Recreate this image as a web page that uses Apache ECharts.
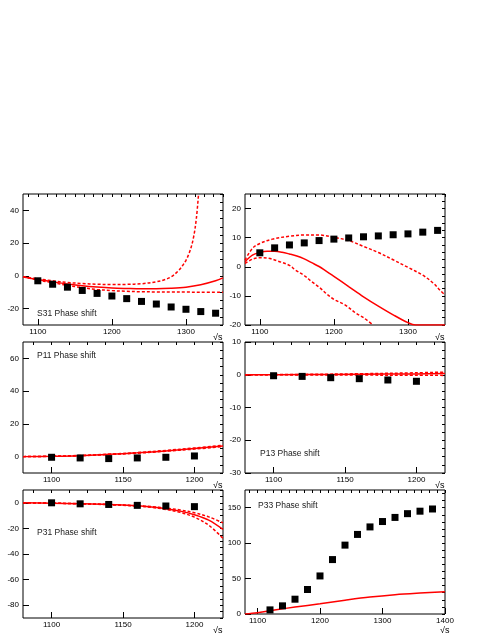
<!DOCTYPE html>
<html>
<head>
<meta charset="utf-8">
<script src="https://cdn.jsdelivr.net/npm/echarts@6/dist/echarts.min.js"></script>
<style>
  html, body { margin: 0; padding: 0; background: #fff; }
  #chart { width: 491px; height: 635px; }
</style>
</head>
<body>
<div id="chart"></div>
<script>
// ---- S31 ----
const s31X = [1100, 1120, 1140, 1160, 1180, 1200, 1220, 1240, 1260, 1280, 1300, 1320, 1340];
const s31Pts = [-3.0, -5.1, -6.9, -8.9, -10.7, -12.3, -13.9, -15.6, -17.2, -19.0, -20.4, -21.8, -22.8];
const s31FitX = [1080, 1100, 1120, 1140, 1160, 1180, 1200, 1220, 1240, 1260, 1280, 1300, 1320, 1340, 1350];
const s31Fit = [-0.5, -2.2, -3.6, -4.9, -6.0, -6.8, -7.4, -7.7, -7.9, -7.9, -7.6, -6.9, -5.4, -3.0, -1.2];
const s31UpX = [1080, 1100, 1120, 1140, 1160, 1180, 1200, 1220, 1240, 1260, 1270, 1280, 1290, 1295, 1300, 1305, 1310, 1314, 1317];
const s31Up = [-0.5, -1.8, -3.0, -4.0, -4.7, -5.1, -5.3, -5.2, -4.8, -3.6, -2.5, -0.6, 3.2, 6.0, 9.5, 14.7, 23, 35, 50];
const s31LoX = [1080, 1100, 1120, 1140, 1160, 1180, 1200, 1220, 1240, 1260, 1280, 1300, 1320, 1350];
const s31Lo = [-0.6, -2.5, -4.2, -5.8, -7.2, -8.3, -9.0, -9.4, -9.7, -9.8, -9.9, -9.9, -10.0, -10.0];

// ---- second panel (unlabelled) ----
const s11X = [1100, 1120, 1140, 1160, 1180, 1200, 1220, 1240, 1260, 1280, 1300, 1320, 1340];
const s11Pts = [4.8, 6.5, 7.5, 8.2, 9.0, 9.5, 9.9, 10.3, 10.6, 11.0, 11.3, 11.9, 12.5];
const s11FitX = [1080, 1090, 1100, 1110, 1120, 1130, 1140, 1150, 1160, 1170, 1180, 1190, 1200, 1220, 1240, 1260, 1280, 1300, 1310, 1350];
const s11Fit = [1.7, 4.0, 4.9, 5.3, 5.3, 5.0, 4.4, 3.7, 2.7, 1.4, 0.1, -1.6, -3.3, -6.8, -10.3, -13.5, -16.5, -19.2, -20, -20];
const s11UpX = [1080, 1090, 1100, 1117, 1140, 1160, 1180, 1200, 1220, 1240, 1260, 1280, 1300, 1320, 1335, 1343, 1350];
const s11Up = [2.3, 6.3, 8.0, 9.5, 10.5, 10.9, 10.9, 10.1, 9.0, 7.0, 4.9, 2.4, -0.2, -2.9, -5.8, -8.0, -9.7];
const s11LoX = [1080, 1090, 1100, 1112, 1125, 1140, 1148, 1160, 1170, 1180, 1192, 1200, 1215, 1230, 1240, 1253];
const s11Lo = [1.1, 2.6, 3.1, 2.9, 1.9, 0.5, -1.1, -3.0, -5.1, -7.0, -9.7, -11.2, -13.1, -16, -17.5, -20];

// ---- P11 ----
const p11X = [1100, 1120, 1140, 1160, 1180, 1200];
const p11Pts = [-0.4, -0.8, -1.2, -0.8, -0.4, 0.4];
const p11FitX = [1080, 1100, 1120, 1140, 1160, 1180, 1200, 1220];
const p11Fit = [0, 0.2, 0.6, 1.4, 2.3, 3.5, 4.9, 6.5];
const p11Up = [0, 0.25, 0.7, 1.5, 2.5, 3.8, 5.3, 7.0];
const p11Lo = [0, 0.15, 0.5, 1.3, 2.1, 3.3, 4.6, 6.1];

// ---- P13 ----
const p13X = [1100, 1120, 1140, 1160, 1180, 1200];
const p13Pts = [-0.3, -0.5, -0.9, -1.2, -1.6, -2.0];
const p13FitX = [1080, 1120, 1160, 1200, 1220];
const p13Fit = [0, 0.05, 0.15, 0.25, 0.35];
const p13Up = [0, 0.1, 0.3, 0.6, 0.8];
const p13Lo = [0, -0.05, -0.1, -0.15, -0.2];

// ---- P31 ----
const p31X = [1100, 1120, 1140, 1160, 1180, 1200];
const p31Pts = [0, -0.8, -1.3, -2.0, -2.5, -3.0];
const p31FitX = [1080, 1100, 1120, 1140, 1160, 1170, 1180, 1190, 1200, 1210, 1220];
const p31Fit = [0, -0.3, -0.7, -1.3, -2.4, -3.3, -4.6, -6.5, -9.3, -13.5, -20.8];
const p31Up = [0, -0.3, -0.7, -1.3, -2.3, -3.0, -4.1, -5.6, -7.8, -11.0, -15.7];
const p31Lo = [0, -0.3, -0.8, -1.5, -2.6, -3.6, -5.2, -7.5, -11.2, -17.5, -27.8];

// ---- P33 ----
const p33X = [1120, 1140, 1160, 1180, 1200, 1220, 1240, 1260, 1280, 1300, 1320, 1340, 1360, 1380];
const p33Pts = [5.8, 11.5, 20.9, 34.6, 53.7, 76.8, 97.2, 112.3, 122.9, 130.5, 136.3, 141.6, 145.1, 148.2];
const p33FitX = [1080, 1100, 1130, 1160, 1200, 1240, 1280, 1320, 1360, 1400];
const p33Fit = [0, 1.8, 6.0, 9.8, 14.5, 19.5, 24.0, 27.3, 29.6, 31.5];

// ---- axes: ranges and tick labels ----
const xRanges = [[1080, 1350], [1080, 1350], [1080, 1220], [1080, 1220], [1080, 1220], [1080, 1400]];
const yRanges = [[-30, 50], [-20, 25], [-10, 70], [-30, 10], [-90, 10], [0, 175]];
const xTicks = [
  [1100, 1200, 1300], [1100, 1200, 1300],
  [1100, 1150, 1200], [1100, 1150, 1200], [1100, 1150, 1200],
  [1100, 1200, 1300, 1400]
];
const yTicks = [
  [-20, 0, 20, 40], [-20, -10, 0, 10, 20],
  [0, 20, 40, 60], [-30, -20, -10, 0, 10], [-80, -60, -40, -20, 0],
  [0, 50, 100, 150]
];
const xMinorStep = [12.5, 12.5, 12.5, 12.5, 12.5, 12.5];
const yMinorStep = [5, 2.5, 5, 2.5, 5, 10];
const labels = ['S31 Phase shift', '', 'P11 Phase shift', 'P13 Phase shift', 'P31 Phase shift', 'P33 Phase shift'];

const FONT = 'Liberation Sans, Arial, Helvetica, sans-serif';
const W = 200, H = 131;
const gridPos = [
  { left: 23, top: 194 }, { left: 245, top: 194 },
  { left: 23, top: 342 }, { left: 245, top: 342 },
  { left: 23, top: 490 }, { left: 245, top: 490 }
];
const labelPos = [
  { left: 37, top: 309 }, null,
  { left: 37, top: 351 }, { left: 260, top: 449 },
  { left: 37, top: 528 }, { left: 258, top: 501 }
];

function zip(xs, ys) {
  return xs.map((x, i) => [x, ys[i]]);
}
function minorTicks(range, step) {
  let out = [];
  let v = Math.ceil(range[0] / step) * step;
  for (; v <= range[1] + 1e-9; v += step) out.push(v);
  return out;
}
const plain = v => String(v);

const grids = [], xAxes = [], yAxes = [], series = [], titles = [];

gridPos.forEach((p, i) => {
  grids.push({
    left: p.left, top: p.top, width: W, height: H,
    show: true, borderColor: '#000', borderWidth: 1, backgroundColor: 'transparent'
  });
  let last = i === 5;
  xAxes.push({
    type: 'value', gridIndex: i, min: xRanges[i][0], max: xRanges[i][1],
    axisLine: { show: false, onZero: false }, splitLine: { show: false },
    axisTick: { show: true, inside: true, length: 6, customValues: xTicks[i], lineStyle: { color: '#000' } },
    axisLabel: { customValues: xTicks[i], formatter: plain, fontSize: 8, color: '#000', margin: 3, fontFamily: FONT },
    name: '√s', nameLocation: 'end', nameGap: last ? -5 : -10,
    nameTextStyle: { fontSize: 9, color: '#000', fontFamily: FONT, verticalAlign: 'top', padding: [last ? 12 : 8, 0, 0, 0] }
  });
  xAxes.push({
    type: 'value', gridIndex: i, min: xRanges[i][0], max: xRanges[i][1],
    axisLine: { show: false, onZero: false }, splitLine: { show: false }, axisLabel: { show: false },
    axisTick: { show: true, inside: true, length: 3, customValues: minorTicks(xRanges[i], xMinorStep[i]), lineStyle: { color: '#000' } }
  });
  yAxes.push({
    type: 'value', gridIndex: i, min: yRanges[i][0], max: yRanges[i][1],
    axisLine: { show: false, onZero: false }, splitLine: { show: false },
    axisTick: { show: true, inside: true, length: 6, customValues: yTicks[i], lineStyle: { color: '#000' } },
    axisLabel: { customValues: yTicks[i], formatter: plain, fontSize: 8, color: '#000', margin: 4, fontFamily: FONT }
  });
  yAxes.push({
    type: 'value', gridIndex: i, min: yRanges[i][0], max: yRanges[i][1],
    axisLine: { show: false, onZero: false }, splitLine: { show: false }, axisLabel: { show: false },
    axisTick: { show: true, inside: true, length: 3, customValues: minorTicks(yRanges[i], yMinorStep[i]), lineStyle: { color: '#000' } }
  });
  if (labelPos[i]) {
    titles.push({
      text: labels[i], left: labelPos[i].left, top: labelPos[i].top, padding: 0,
      textStyle: { fontSize: 8.5, fontWeight: 'normal', color: '#222', fontFamily: FONT }
    });
  }
});

function curve(i, data, dashed) {
  series.push({
    type: 'line', xAxisIndex: 2 * i, yAxisIndex: 2 * i, data: data,
    showSymbol: false, smooth: 0.35, silent: true,
    lineStyle: { color: '#ff0000', width: 1.5, type: dashed ? [3, 2] : 'solid' }
  });
}
function points(i, data) {
  series.push({
    type: 'scatter', xAxisIndex: 2 * i, yAxisIndex: 2 * i, data: data,
    symbol: 'rect', symbolSize: 7, itemStyle: { color: '#000', opacity: 1 }, z: 5
  });
}

curve(0, zip(s31FitX, s31Fit), false);
curve(0, zip(s31UpX, s31Up), true);
curve(0, zip(s31LoX, s31Lo), true);
points(0, zip(s31X, s31Pts));

curve(1, zip(s11FitX, s11Fit), false);
curve(1, zip(s11UpX, s11Up), true);
curve(1, zip(s11LoX, s11Lo), true);
points(1, zip(s11X, s11Pts));

curve(2, zip(p11FitX, p11Fit), false);
curve(2, zip(p11FitX, p11Up), true);
curve(2, zip(p11FitX, p11Lo), true);
points(2, zip(p11X, p11Pts));

curve(3, zip(p13FitX, p13Fit), false);
curve(3, zip(p13FitX, p13Up), true);
curve(3, zip(p13FitX, p13Lo), true);
points(3, zip(p13X, p13Pts));

curve(4, zip(p31FitX, p31Fit), false);
curve(4, zip(p31FitX, p31Up), true);
curve(4, zip(p31FitX, p31Lo), true);
points(4, zip(p31X, p31Pts));

curve(5, zip(p33FitX, p33Fit), false);
points(5, zip(p33X, p33Pts));

const chart = echarts.init(document.getElementById('chart'), null, { renderer: 'canvas' });
chart.setOption({
  animation: false,
  backgroundColor: '#fff',
  title: titles,
  grid: grids,
  xAxis: xAxes,
  yAxis: yAxes,
  series: series
});
</script>
</body>
</html>
